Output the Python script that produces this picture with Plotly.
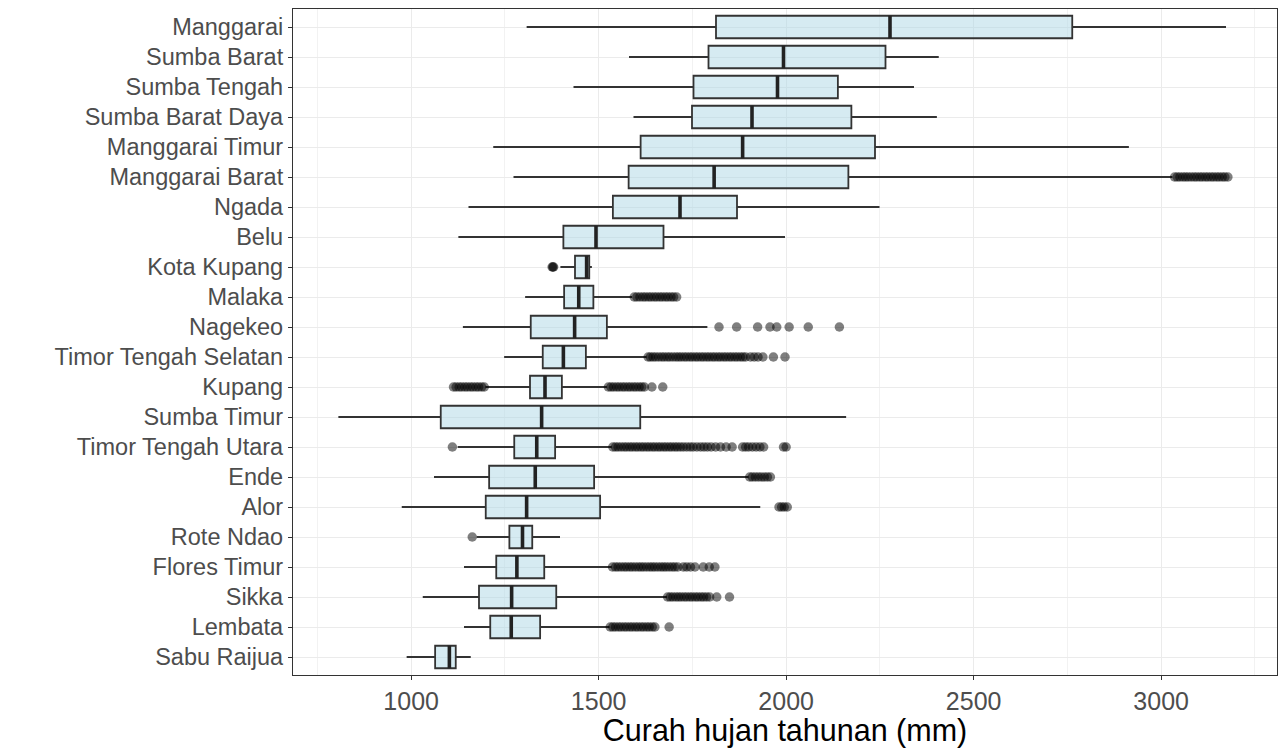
import plotly.graph_objects as go

categories = ["Manggarai", "Sumba Barat", "Sumba Tengah", "Sumba Barat Daya",
              "Manggarai Timur", "Manggarai Barat", "Ngada", "Belu", "Kota Kupang",
              "Malaka", "Nagekeo", "Timor Tengah Selatan", "Kupang", "Sumba Timur",
              "Timor Tengah Utara", "Ende", "Alor", "Rote Ndao", "Flores Timur",
              "Sikka", "Lembata", "Sabu Raijua"]

lower_whisker = [1308, 1581, 1433, 1593, 1219, 1273, 1153, 1126, 1398, 1304, 1138,
                 1248, 1198, 806, 1124, 1061, 975, 1175, 1141, 1031, 1141, 988]
q1 = [1813, 1793, 1753, 1749, 1612, 1580, 1538, 1406, 1437, 1408, 1319,
      1351, 1317, 1079, 1275, 1208, 1199, 1262, 1227, 1181, 1211, 1064]
median = [2277, 1993, 1977, 1909, 1884, 1808, 1717, 1493, 1468, 1447, 1436,
          1406, 1357, 1348, 1335, 1331, 1308, 1297, 1282, 1268, 1267, 1102]
q3 = [2763, 2265, 2138, 2174, 2237, 2166, 1869, 1673, 1475, 1486, 1522,
      1466, 1402, 1611, 1384, 1488, 1504, 1323, 1355, 1387, 1344, 1119]
upper_whisker = [3173, 2407, 2341, 2402, 2914, 3030, 2249, 1997, 1482, 1589, 1790,
                 1628, 1522, 2160, 1535, 1900, 1931, 1397, 1535, 1682, 1529, 1159]

outliers = [
    [],
    [],
    [],
    [],
    [],
    [3036, 3043, 3050, 3058, 3065, 3072, 3080, 3088, 3095, 3103, 3110, 3118, 3125,
     3133, 3140, 3148, 3155, 3163, 3170, 3178],
    [],
    [],
    [1378, 1376, 1380],
    [1595, 1602, 1610, 1618, 1625, 1633, 1640, 1648, 1655, 1663, 1670, 1678, 1685,
     1693, 1700, 1708],
    [1821, 1868, 1924, 1957, 1975, 2008, 2059, 2142],
    [1632, 1638, 1645, 1652, 1660, 1668, 1675, 1683, 1690, 1698, 1706, 1713, 1720,
     1728, 1735, 1743, 1750, 1758, 1765, 1773, 1780, 1788, 1795, 1803, 1810, 1818,
     1825, 1833, 1840, 1848, 1855, 1863, 1870, 1878, 1885, 1892, 1905, 1915, 1925,
     1938, 1966, 1997],
    [1113, 1120, 1128, 1135, 1143, 1150, 1158, 1165, 1173, 1180, 1188, 1195,
     1526, 1533, 1540, 1548, 1555, 1563, 1570, 1578, 1585, 1593, 1600, 1608, 1615,
     1622, 1642, 1671],
    [],
    [1110, 1538, 1545, 1552, 1560, 1568, 1575, 1583, 1590, 1598, 1605, 1613, 1620,
     1628, 1635, 1643, 1650, 1658, 1665, 1673, 1680, 1688, 1695, 1703, 1710, 1718,
     1726, 1735, 1744, 1752, 1762, 1772, 1781, 1790, 1800, 1812, 1825, 1840, 1856,
     1884, 1892, 1900, 1910, 1920, 1930, 1940, 1993, 2000],
    [1903, 1910, 1918, 1926, 1934, 1942, 1950, 1958],
    [1981, 1988, 1995, 2003],
    [1163],
    [1537, 1545, 1552, 1560, 1568, 1575, 1583, 1590, 1598, 1606, 1613, 1620, 1628,
     1636, 1643, 1650, 1658, 1666, 1673, 1680, 1688, 1696, 1703, 1711, 1726, 1735,
     1745, 1757, 1779, 1795, 1810],
    [1684, 1691, 1698, 1706, 1713, 1720, 1728, 1735, 1743, 1750, 1758, 1765, 1773,
     1780, 1788, 1796, 1815, 1849],
    [1531, 1538, 1545, 1553, 1560, 1568, 1575, 1583, 1590, 1598, 1605, 1613, 1620,
     1628, 1635, 1643, 1650, 1688],
    [],
]

x_ticks = [1000, 1500, 2000, 2500, 3000]
x_title = "Curah hujan tahunan (mm)"

positions = list(range(1, len(categories) + 1))
box_w = 0.75

fig = go.Figure()

fig.add_trace(go.Box(
    y=positions, q1=q1, median=median, q3=q3,
    lowerfence=lower_whisker, upperfence=upper_whisker,
    orientation="h", width=box_w, whiskerwidth=0,
    fillcolor="rgba(173,216,230,0.5)",
    line=dict(color="#333333", width=1.8),
    boxpoints=False, showlegend=False, hoverinfo="skip",
))

# thicker median bars
mx, my = [], []
for p, m in zip(positions, median):
    mx += [m, m, None]
    my += [p - box_w / 2, p + box_w / 2, None]
fig.add_trace(go.Scatter(x=mx, y=my, mode="lines",
                         line=dict(color="#222222", width=3.6),
                         showlegend=False, hoverinfo="skip"))

ox, oy = [], []
for p, vals in zip(positions, outliers):
    for v in vals:
        ox.append(v)
        oy.append(p)
fig.add_trace(go.Scatter(x=ox, y=oy, mode="markers",
                         marker=dict(color="rgba(0,0,0,0.5)", size=9.5, line=dict(width=0)),
                         showlegend=False, hoverinfo="skip"))

font_family = "Liberation Sans, Arial, sans-serif"

fig.update_layout(
    width=1281, height=748,
    margin=dict(l=293, r=4, t=9, b=73),
    paper_bgcolor="white", plot_bgcolor="white",
    font=dict(family=font_family, color="#4D4D4D"),
    xaxis=dict(
        range=[685, 3309], tickvals=x_ticks, ticktext=[str(t) for t in x_ticks],
        showgrid=True, gridcolor="#EBEBEB", gridwidth=1.4,
        minor=dict(dtick=250, tick0=750, showgrid=True, gridcolor="#F2F2F2", gridwidth=0.8),
        ticks="outside", ticklen=4, tickwidth=1.2, tickcolor="#333333",
        showline=True, linecolor="#333333", linewidth=1.2, mirror=True,
        tickfont=dict(size=25, color="#4D4D4D"),
        title=dict(text=x_title, font=dict(size=30.5, color="black"), standoff=2),
        zeroline=False,
    ),
    yaxis=dict(
        range=[22.6, 0.4], tickvals=positions, ticktext=categories,
        showgrid=True, gridcolor="#EBEBEB", gridwidth=1.4,
        ticks="outside", ticklen=4, tickwidth=1.2, tickcolor="#333333",
        showline=True, linecolor="#333333", linewidth=1.2, mirror=True,
        tickfont=dict(size=23.5, color="#4D4D4D"),
        zeroline=False,
    ),
)

fig.write_html("out.html")
